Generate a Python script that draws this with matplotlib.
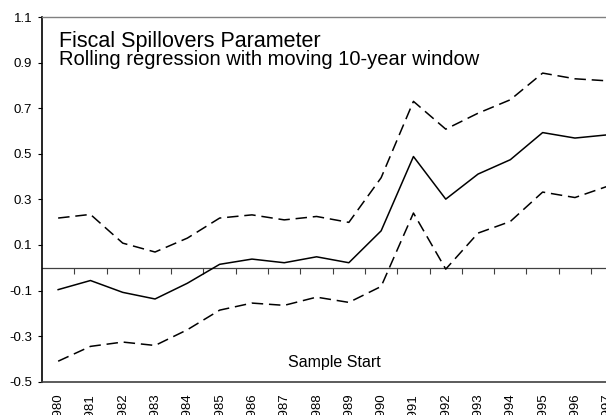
import numpy as np
import matplotlib
matplotlib.use("Agg")
import matplotlib.pyplot as plt

plt.rcParams['font.family'] = ['Liberation Sans', 'DejaVu Sans']

# data
years = [str(y) for y in range(1980, 1998)]
estimate = [-0.096, -0.056, -0.108, -0.137, -0.068, 0.015, 0.038, 0.022, 0.048, 0.022,
            0.162, 0.488, 0.301, 0.411, 0.474, 0.593, 0.569, 0.583]
upper = [0.218, 0.234, 0.108, 0.069, 0.130, 0.218, 0.232, 0.210, 0.225, 0.199,
         0.395, 0.730, 0.608, 0.678, 0.737, 0.854, 0.829, 0.820]
lower = [-0.410, -0.345, -0.326, -0.341, -0.272, -0.186, -0.155, -0.165, -0.129, -0.152,
         -0.082, 0.240, -0.006, 0.152, 0.203, 0.332, 0.308, 0.357]
yticks = [-0.5, -0.3, -0.1, 0.1, 0.3, 0.5, 0.7, 0.9, 1.1]

fig = plt.figure(figsize=(6.06, 4.15), dpi=100)
# plot area runs past the right edge, like the cropped original
ax = fig.add_axes([0.0693, 0.0802, 0.9594, 0.8788])

x = np.arange(len(years))
ax.plot(x, estimate, color='black', lw=1.1)
ax.plot(x, upper, color='black', lw=1.1, dashes=(7.5, 3.8))
ax.plot(x, lower, color='black', lw=1.1, dashes=(7.5, 3.8))

ax.set_xlim(-0.5, len(years) - 0.5)
ax.set_ylim(-0.5, 1.1)
ax.set_yticks(yticks)
ax.set_yticklabels([f"{v:.1f}" for v in yticks])
ax.set_xticks(x)
ax.set_xticklabels(years, rotation=90)
# labels hang off the bottom edge as in the original
ax.tick_params(axis='x', length=0, pad=8, labelsize=9.5)
ax.tick_params(axis='y', length=3, width=0.8, pad=4, labelsize=9.5)

ax.spines['left'].set_color('black')
ax.spines['left'].set_linewidth(1.2)
ax.spines['bottom'].set_color('#404040')
ax.spines['bottom'].set_linewidth(1.2)
ax.spines['top'].set_color('#808080')
ax.spines['top'].set_linewidth(1.0)
ax.spines['right'].set_visible(False)

# zero line with category tick marks
zpos = (0 - ax.get_ylim()[0]) / (ax.get_ylim()[1] - ax.get_ylim()[0])
sec = ax.secondary_xaxis(zpos)
sec.set_xticks(np.arange(0.5, len(years) - 1, 1))
sec.tick_params(length=4, width=0.8, color='#404040', labelbottom=False, labeltop=False)
sec.spines['bottom'].set_color('#404040')
sec.spines['top'].set_color('#404040')
for s in sec.spines.values():
    s.set_linewidth(0.9)

fig.text(0.0974, 0.8875, "Fiscal Spillovers Parameter", fontsize=15.5, va='baseline')
fig.text(0.0974, 0.8434, "Rolling regression with moving 10-year window", fontsize=14.5, va='baseline')
fig.text(0.551, 0.1277, "Sample Start", fontsize=11.5, ha='center', va='center')

fig.savefig("out.png", dpi=100)
